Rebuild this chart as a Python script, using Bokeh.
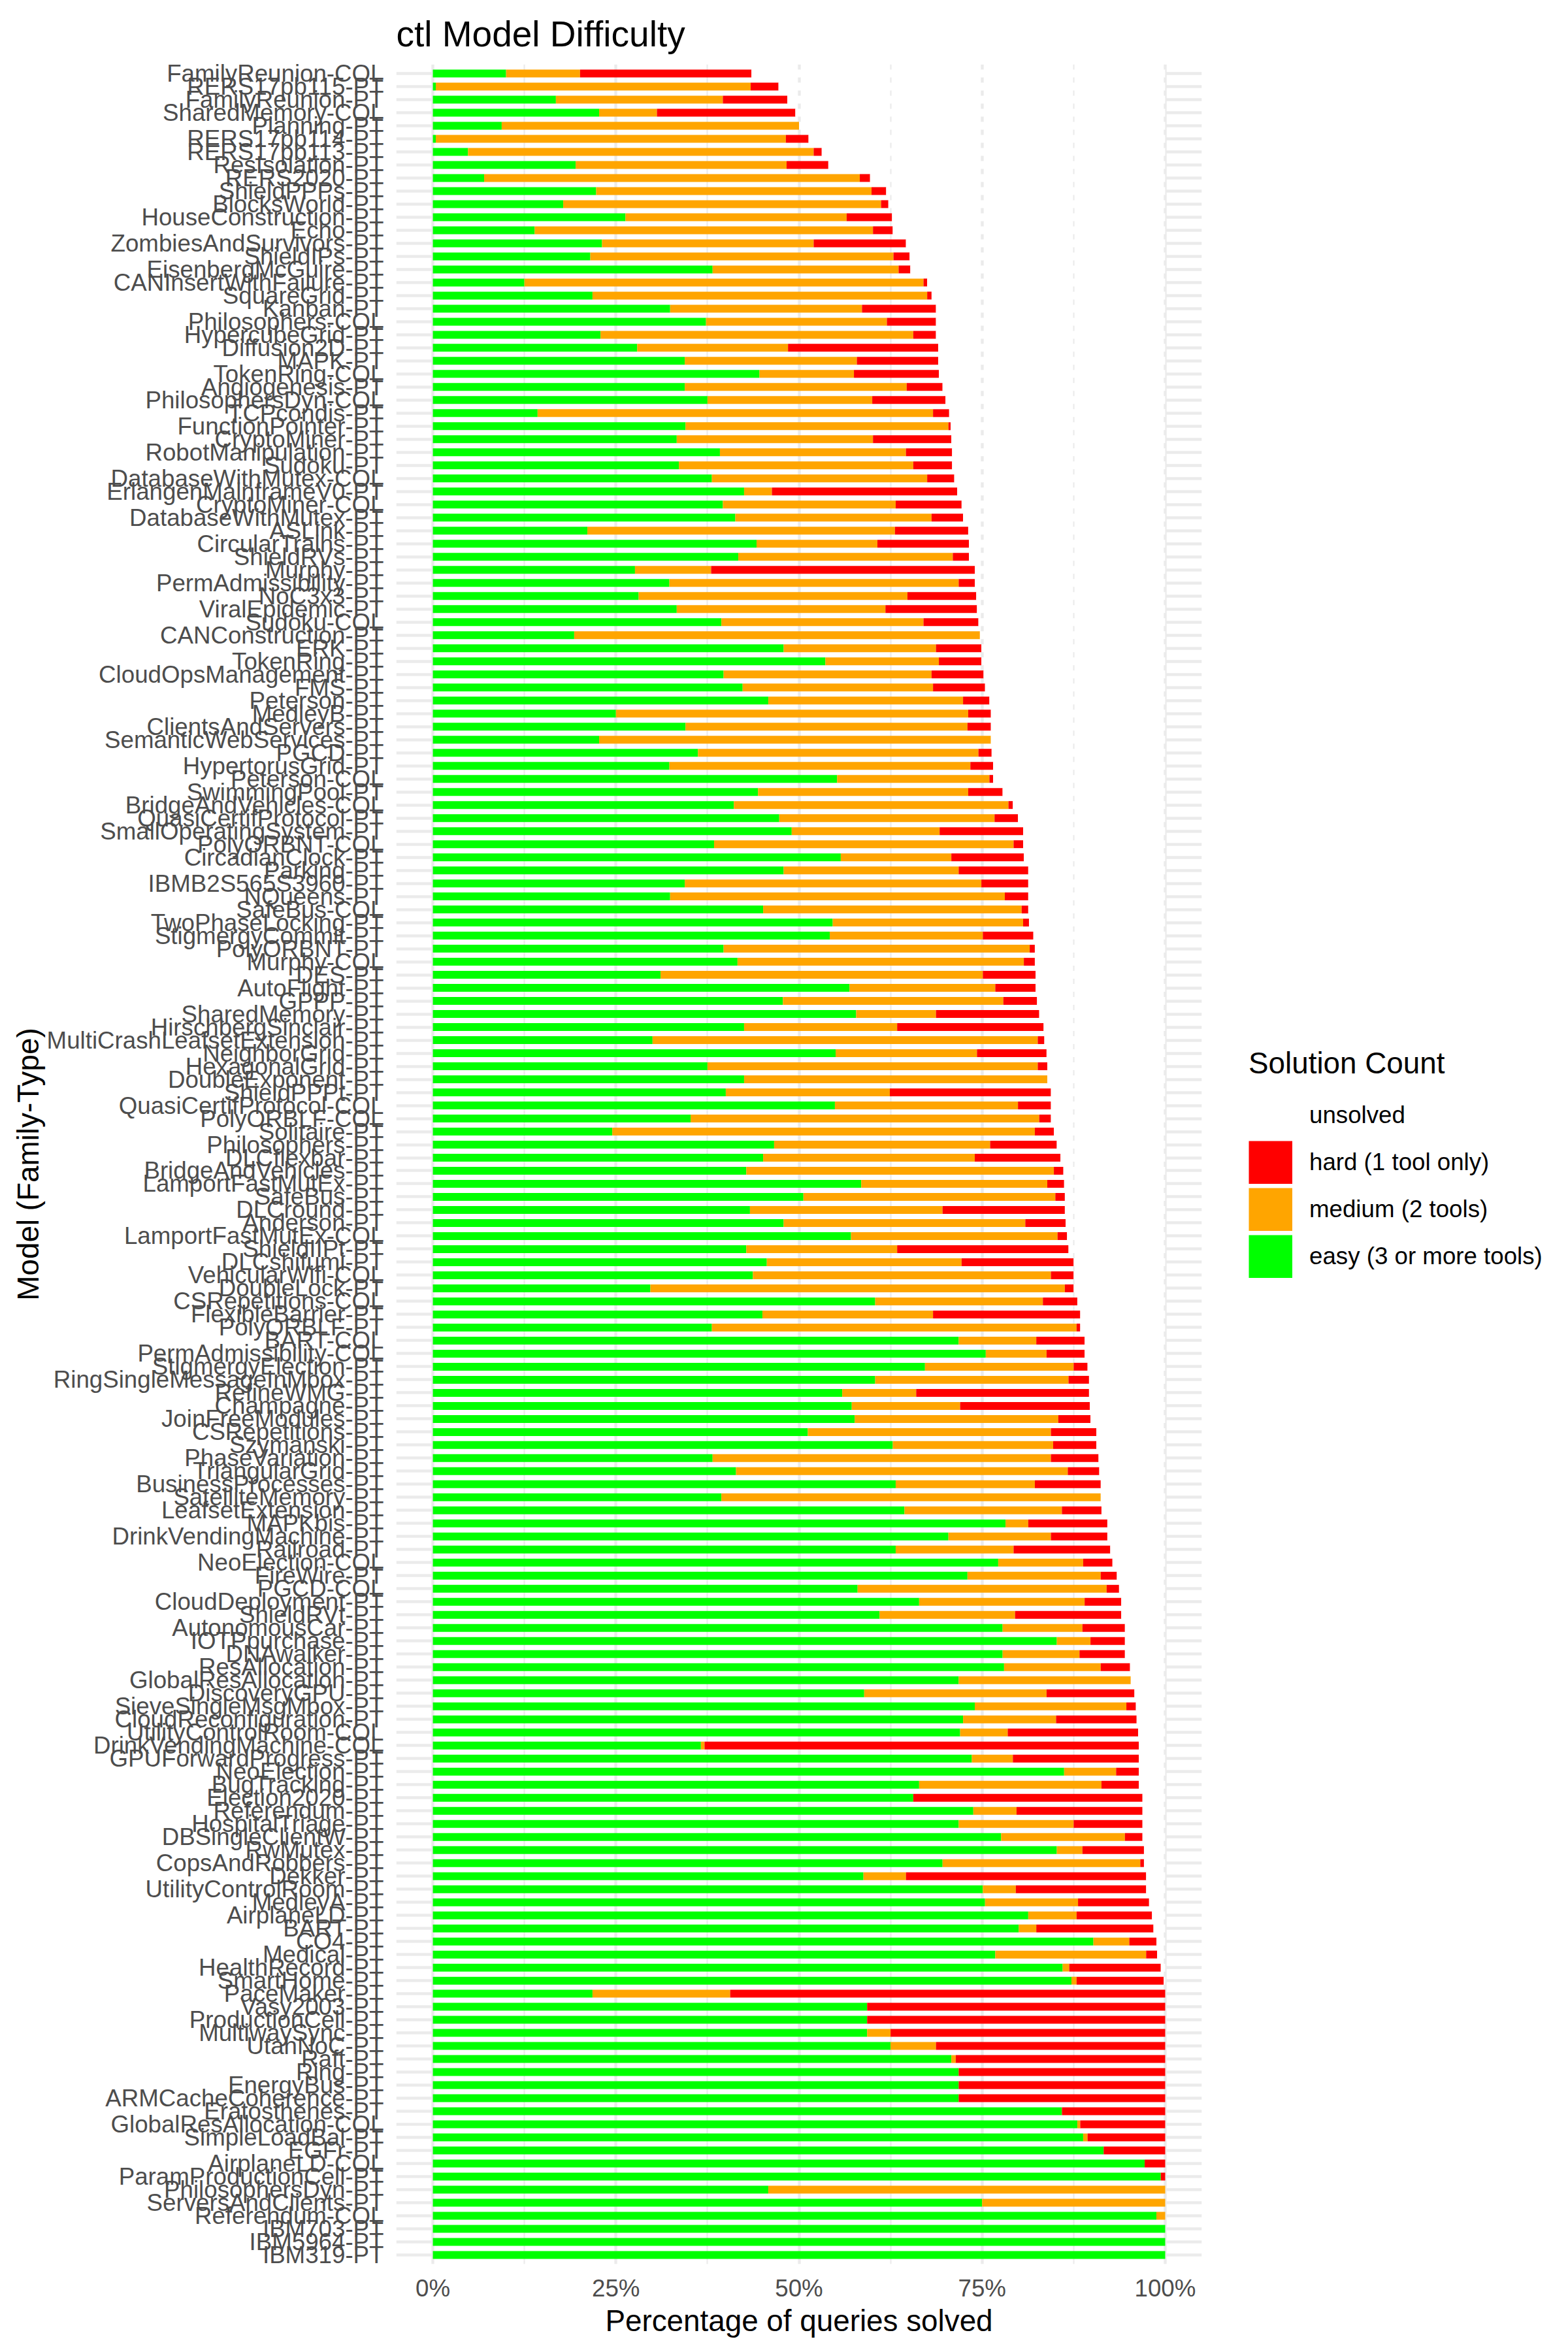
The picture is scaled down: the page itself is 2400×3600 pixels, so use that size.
from bokeh.plotting import figure
from bokeh.models import (ColumnDataSource, FactorRange, Range1d, FixedTicker,
                          PrintfTickFormatter, Legend, LegendItem)
from bokeh.embed import file_html
from bokeh.resources import INLINE

# Models, top of chart first
models = [
    "FamilyReunion-COL", "RERS17pb115-PT", "FamilyReunion-PT", "SharedMemory-COL", "Planning-PT",
    "RERS17pb114-PT", "RERS17pb113-PT", "ResIsolation-PT", "RERS2020-PT", "ShieldPPPs-PT",
    "BlocksWorld-PT", "HouseConstruction-PT", "Echo-PT", "ZombiesAndSurvivors-PT", "ShieldIPs-PT",
    "EisenbergMcGuire-PT", "CANInsertWithFailure-PT", "SquareGrid-PT", "Kanban-PT", "Philosophers-COL",
    "HypercubeGrid-PT", "Diffusion2D-PT", "MAPK-PT", "TokenRing-COL", "Angiogenesis-PT",
    "PhilosophersDyn-COL", "TCPcondis-PT", "FunctionPointer-PT", "CryptoMiner-PT", "RobotManipulation-PT",
    "Sudoku-PT", "DatabaseWithMutex-COL", "ErlangenMainframeV0-PT", "CryptoMiner-COL", "DatabaseWithMutex-PT",
    "ASLink-PT", "CircularTrains-PT", "ShieldRVs-PT", "Murphy-PT", "PermAdmissibility-PT",
    "NoC3x3-PT", "ViralEpidemic-PT", "Sudoku-COL", "CANConstruction-PT", "ERK-PT",
    "TokenRing-PT", "CloudOpsManagement-PT", "FMS-PT", "Peterson-PT", "MedleyB-PT",
    "ClientsAndServers-PT", "SemanticWebServices-PT", "PGCD-PT", "HypertorusGrid-PT", "Peterson-COL",
    "SwimmingPool-PT", "BridgeAndVehicles-COL", "QuasiCertifProtocol-PT", "SmallOperatingSystem-PT", "PolyORBNT-COL",
    "CircadianClock-PT", "Parking-PT", "IBMB2S565S3960-PT", "NQueens-PT", "SafeBus-COL",
    "TwoPhaseLocking-PT", "StigmergyCommit-PT", "PolyORBNT-PT", "Murphy-COL", "DES-PT",
    "AutoFlight-PT", "GPPP-PT", "SharedMemory-PT", "HirschbergSinclair-PT", "MultiCrashLeafsetExtension-PT",
    "NeighborGrid-PT", "HexagonalGrid-PT", "DoubleExponent-PT", "ShieldPPPt-PT", "QuasiCertifProtocol-COL",
    "PolyORBLF-COL", "Solitaire-PT", "Philosophers-PT", "DLCflexbar-PT", "BridgeAndVehicles-PT",
    "LamportFastMutEx-PT", "SafeBus-PT", "DLCround-PT", "Anderson-PT", "LamportFastMutEx-COL",
    "ShieldIIPt-PT", "DLCshifumi-PT", "VehicularWifi-COL", "DoubleLock-PT", "CSRepetitions-COL",
    "FlexibleBarrier-PT", "PolyORBLF-PT", "BART-COL", "PermAdmissibility-COL", "StigmergyElection-PT",
    "RingSingleMessageInMbox-PT", "RefineWMG-PT", "Champagne-PT", "JoinFreeModules-PT", "CSRepetitions-PT",
    "Szymanski-PT", "PhaseVariation-PT", "TriangularGrid-PT", "BusinessProcesses-PT", "SatelliteMemory-PT",
    "LeafsetExtension-PT", "MAPKbis-PT", "DrinkVendingMachine-PT", "Railroad-PT", "NeoElection-COL",
    "FireWire-PT", "PGCD-COL", "CloudDeployment-PT", "ShieldRVt-PT", "AutonomousCar-PT",
    "IOTPpurchase-PT", "DNAwalker-PT", "ResAllocation-PT", "GlobalResAllocation-PT", "DiscoveryGPU-PT",
    "SieveSingleMsgMbox-PT", "CloudReconfiguration-PT", "UtilityControlRoom-COL", "DrinkVendingMachine-COL", "GPUForwardProgress-PT",
    "NeoElection-PT", "BugTracking-PT", "Election2020-PT", "Referendum-PT", "HospitalTriage-PT",
    "DBSingleClientW-PT", "RwMutex-PT", "CopsAndRobbers-PT", "Dekker-PT", "UtilityControlRoom-PT",
    "MedleyA-PT", "AirplaneLD-PT", "BART-PT", "CO4-PT", "Medical-PT",
    "HealthRecord-PT", "SmartHome-PT", "PaceMaker-PT", "Vasy2003-PT", "ProductionCell-PT",
    "MultiwaySync-PT", "UtahNoC-PT", "Raft-PT", "Ring-PT", "EnergyBus-PT",
    "ARMCacheCoherence-PT", "Eratosthenes-PT", "GlobalResAllocation-COL", "SimpleLoadBal-PT", "EGFr-PT",
    "AirplaneLD-COL", "ParamProductionCell-PT", "PhilosophersDyn-PT", "ServersAndClients-PT", "Referendum-COL",
    "IBM703-PT", "IBM5964-PT", "IBM319-PT",
]

# percentage of queries solved by 3+ tools
easy = [
    10.0, 0.4, 16.8, 22.7, 9.4, 0.4, 4.8, 19.5, 7.0, 22.3,
    17.8, 26.3, 13.9, 23.1, 21.5, 38.2, 12.5, 21.8, 32.4, 37.3,
    22.9, 27.9, 34.4, 44.6, 34.4, 37.5, 14.3, 34.5, 33.3, 39.2,
    33.6, 38.1, 42.5, 39.6, 41.3, 21.1, 44.2, 41.7, 27.6, 32.3,
    28.1, 33.3, 39.4, 19.3, 47.9, 53.6, 39.7, 42.3, 45.8, 25.0,
    34.5, 22.7, 36.2, 32.3, 55.2, 44.4, 41.1, 47.3, 49.0, 38.4,
    55.7, 47.9, 34.4, 32.4, 45.1, 54.6, 54.2, 39.7, 41.6, 31.1,
    56.9, 47.8, 57.8, 42.5, 30.0, 55.0, 37.5, 42.5, 40.0, 54.9,
    35.2, 24.5, 46.6, 45.1, 42.8, 58.5, 50.6, 43.3, 47.9, 57.1,
    42.8, 45.6, 43.7, 29.7, 60.4, 45.0, 38.1, 71.8, 75.5, 67.2,
    60.4, 55.9, 57.2, 57.6, 51.2, 62.8, 38.2, 41.4, 63.2, 39.4,
    64.4, 78.2, 70.4, 63.2, 77.2, 73.0, 58.0, 66.4, 61.0, 77.8,
    85.2, 77.8, 78.0, 71.8, 58.9, 74.0, 72.4, 72.0, 36.6, 73.6,
    86.2, 66.4, 65.6, 73.8, 71.8, 77.6, 85.2, 69.6, 58.8, 75.1,
    75.4, 81.3, 80.0, 90.2, 76.8, 86.0, 87.2, 21.8, 59.3, 59.3,
    59.3, 62.5, 70.8, 71.8, 71.8, 71.8, 85.9, 88.0, 88.8, 91.6,
    97.2, 99.4, 45.8, 75.0, 98.8, 100.0, 100.0, 100.0,
]

# percentage solved by exactly 2 tools
medium = [
    10.1, 43.0, 22.8, 7.9, 40.6, 47.8, 47.2, 28.8, 51.3, 37.6,
    43.4, 30.2, 46.2, 28.9, 41.4, 25.4, 54.5, 45.7, 26.2, 24.7,
    42.7, 20.6, 23.5, 12.9, 30.3, 22.5, 54.0, 35.9, 26.8, 25.4,
    32.0, 29.4, 3.8, 23.6, 26.8, 42.0, 16.5, 29.3, 10.4, 39.5,
    36.7, 28.5, 27.6, 55.4, 20.8, 15.5, 28.4, 26.0, 26.6, 48.1,
    38.5, 53.5, 38.3, 41.1, 20.8, 28.7, 37.5, 29.4, 20.2, 40.9,
    15.1, 23.9, 40.5, 45.7, 35.3, 26.0, 20.9, 41.8, 39.1, 44.0,
    19.9, 30.1, 10.9, 20.9, 52.6, 19.3, 45.1, 41.4, 22.4, 25.0,
    47.6, 57.7, 29.5, 28.9, 42.0, 25.4, 34.4, 26.3, 33.0, 28.2,
    20.6, 26.6, 40.7, 56.6, 22.9, 23.3, 49.8, 10.6, 8.3, 20.3,
    26.4, 10.1, 14.8, 27.8, 33.2, 21.9, 46.2, 45.3, 19.0, 51.8,
    21.5, 3.1, 14.0, 16.1, 11.6, 18.2, 34.0, 22.6, 18.5, 10.9,
    4.6, 10.5, 13.2, 23.5, 24.9, 20.7, 12.7, 6.5, 0.5, 5.6,
    7.1, 24.9, 0.0, 5.9, 15.7, 16.9, 3.5, 27.0, 5.8, 4.5,
    12.7, 6.6, 2.4, 4.9, 20.6, 0.9, 0.7, 18.8, 0.0, 0.0,
    3.2, 6.2, 0.6, 0.0, 0.0, 0.0, 0.0, 0.4, 0.6, 0.0,
    0.0, 0.0, 54.2, 25.0, 1.2, 0.0, 0.0, 0.0,
]

# percentage solved by only 1 tool
hard = [
    23.4, 3.8, 8.8, 18.9, 0.0, 3.1, 1.1, 5.7, 1.4, 2.0,
    1.0, 6.2, 2.7, 12.6, 2.2, 1.6, 0.5, 0.6, 10.1, 6.7,
    3.1, 20.5, 11.1, 11.6, 4.9, 10.0, 2.2, 0.3, 10.7, 6.3,
    5.3, 3.7, 25.3, 9.0, 4.3, 10.0, 12.5, 2.2, 36.0, 2.2,
    9.4, 12.5, 7.5, 0.0, 6.2, 5.8, 7.1, 7.1, 3.6, 3.1,
    3.2, 0.0, 1.8, 3.1, 0.5, 4.7, 0.6, 3.2, 11.4, 1.3,
    9.9, 9.5, 6.4, 3.2, 0.9, 0.8, 6.9, 0.7, 1.5, 7.2,
    5.5, 4.6, 14.1, 20.0, 0.9, 9.5, 1.3, 0.0, 22.0, 4.5,
    1.6, 2.6, 9.1, 11.7, 1.3, 2.3, 1.3, 16.7, 5.5, 1.3,
    23.4, 15.3, 3.1, 1.2, 4.7, 20.1, 0.5, 6.6, 5.2, 1.9,
    2.8, 23.6, 17.7, 4.4, 6.2, 5.9, 6.5, 4.3, 9.0, 0.0,
    5.4, 10.8, 7.7, 13.2, 4.0, 2.2, 1.7, 5.0, 14.5, 5.8,
    4.7, 6.2, 4.0, 0.0, 12.0, 1.3, 11.0, 17.8, 59.3, 17.2,
    3.1, 5.1, 31.3, 17.2, 9.4, 2.4, 8.4, 0.5, 32.8, 17.8,
    9.7, 10.3, 16.0, 3.7, 1.5, 12.5, 11.9, 59.4, 40.7, 40.7,
    37.5, 31.3, 28.6, 28.2, 28.2, 28.2, 14.1, 11.6, 10.6, 8.4,
    2.8, 0.6, 0.0, 0.0, 0.0, 0.0, 0.0, 0.0,
]

unsolved = [max(0.0, round(100.0 - e - m - h, 2)) for e, m, h in zip(easy, medium, hard)]

x_ticks = [0, 25, 50, 75, 100]
x_minor_ticks = [12.5, 37.5, 62.5, 87.5]

series = ["easy", "medium", "hard", "unsolved"]
series_labels = ["easy (3 or more tools)", "medium (2 tools)", "hard (1 tool only)", "unsolved"]
series_colors = ["#00FF00", "#FFA500", "#FF0000", "#FFFFFF"]

FONT = "Liberation Sans"
FRAME_W, FRAME_H = 1233, 3367

source = ColumnDataSource(dict(model=models, easy=easy, medium=medium, hard=hard, unsolved=unsolved))

p = figure(
    y_range=FactorRange(factors=models[::-1], range_padding=0.2, range_padding_units="absolute"),
    x_range=Range1d(-5, 105),
    frame_width=FRAME_W, frame_height=FRAME_H,
    min_border_left=606, min_border_right=561, min_border_top=98, min_border_bottom=135,
    output_backend="svg", toolbar_location=None,
    background_fill_color="white", border_fill_color="white",
)
p.outline_line_color = None

p.title.text = "ctl Model Difficulty"
p.title.text_font = FONT
p.title.text_font_size = "55px"
p.title.text_font_style = "normal"
p.title.text_color = "black"
p.title.align = "left"
p.title.standoff = 32

# grid
p.xgrid.ticker = FixedTicker(ticks=x_ticks, minor_ticks=x_minor_ticks)
p.xgrid.grid_line_color = "#EBEBEB"
p.xgrid.grid_line_width = 4.4
p.xgrid.minor_grid_line_color = "#EBEBEB"
p.xgrid.minor_grid_line_width = 2.2
p.ygrid.grid_line_color = "#EBEBEB"
p.ygrid.grid_line_width = 4.4

p.hbar_stack(series, y="model", height=0.6, source=source,
             fill_color=series_colors, line_color=None)

# legend keys: thick butt-capped lines (single point, so nothing is drawn in the plot)
key_renderers = [p.line(x=[0], y=[models[-1]], line_color=c, line_width=66, line_cap="butt")
                 for c in series_colors]

# axes
xa = p.xaxis[0]
xa.ticker = FixedTicker(ticks=x_ticks, minor_ticks=x_minor_ticks)
xa.formatter = PrintfTickFormatter(format="%d%%")
xa.axis_label = "Percentage of queries solved"
ya = p.yaxis[0]
ya.axis_label = "Model (Family-Type)"
for ax in (xa, ya):
    ax.axis_line_color = None
    ax.major_tick_line_color = None
    ax.minor_tick_line_color = None
    ax.major_tick_out = 0
    ax.minor_tick_out = 0
    ax.major_label_text_font = FONT
    ax.major_label_text_font_size = "36.7px"
    ax.major_label_text_color = "#4D4D4D"
    ax.axis_label_text_font = FONT
    ax.axis_label_text_font_size = "45.8px"
    ax.axis_label_text_font_style = "normal"
    ax.axis_label_text_color = "black"
xa.major_label_standoff = 16
xa.axis_label_standoff = 1
ya.major_label_standoff = 19
ya.axis_label_standoff = 0

# legend (top to bottom: unsolved, hard, medium, easy)
order = [3, 2, 1, 0]
items = [LegendItem(label=series_labels[i], renderers=[key_renderers[i]]) for i in order]
legend = Legend(items=items, location=(72, 1509), orientation="vertical")
legend.title = "Solution Count"
legend.title_text_font = FONT
legend.title_text_font_size = "45.8px"
legend.title_text_font_style = "normal"
legend.title_text_color = "black"
legend.title_standoff = 20
legend.label_text_font = FONT
legend.label_text_font_size = "36.7px"
legend.label_text_color = "black"
legend.glyph_width = 67
legend.glyph_height = 66
legend.label_standoff = 26
legend.spacing = 6
legend.padding = 0
legend.margin = 0
legend.border_line_color = None
legend.background_fill_alpha = 0
p.add_layout(legend, "right")

open("out.html", "w").write(file_html(p, INLINE))
